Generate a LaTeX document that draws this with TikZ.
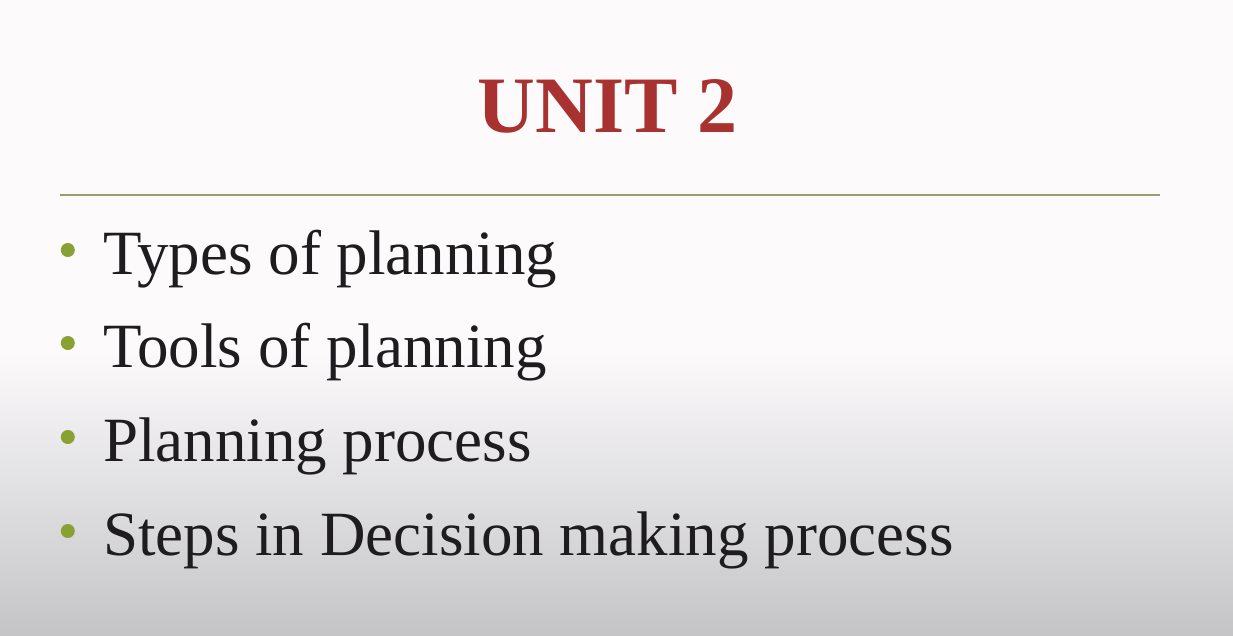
\documentclass[tikz,border=0pt]{standalone}
\usepackage{fontspec}
\setmainfont{Liberation Serif}
\usetikzlibrary{positioning}
\definecolor{unitred}{RGB}{168,50,48}
\definecolor{olivedot}{RGB}{137,160,50}
\definecolor{ruleline}{RGB}{150,158,110}
\definecolor{slidetop}{RGB}{252,250,251}
\definecolor{slidebottom}{RGB}{196,196,199}
\definecolor{itemtext}{RGB}{30,28,30}
\tikzset{
    x=1pt,
    y=-1pt,
    heading/.style = {
        text=unitred,
        font=\fontsize{80}{80}\selectfont\bfseries,
        inner sep=0pt,
        anchor=base
    },
    topic/.style = {
        text=itemtext,
        font=\fontsize{63}{63}\selectfont,
        inner sep=0pt,
        anchor=base west
    },
    bullet/.style = {
        shape=circle,
        fill=olivedot,
        minimum size=14pt,
        inner sep=0pt,
        font=\fontsize{1}{1}\selectfont
    },
}
\begin{document}
\begin{tikzpicture}

            \useasboundingbox (0,0) rectangle (1233,636);
            \fill[slidetop] (0,0) rectangle (1233,350);
            \shade[top color=slidetop, bottom color=slidebottom] (0,350) rectangle (1233,636);

            \node[heading] (unit) at (608,133) {UNIT 2};

            \coordinate (rule_w) at (60,195);
            \coordinate (rule_e) at (1160,195);
            \path[draw, ruleline, line width=1.4pt] (rule_w) -- (rule_e);

            \node[topic] (types) at (103,274) {Types of planning};
            \node[topic] (tools) at (103,367) {Tools of planning};
            \node[topic] (process) at (103,461) {Planning process};
            \node[topic] (steps) at (103,555) {Steps in Decision making process};

            \node[bullet, left=28pt of types.base west, yshift=24pt] (dot_types) {};
            \node[bullet, left=28pt of tools.base west, yshift=24pt] (dot_tools) {};
            \node[bullet, left=28pt of process.base west, yshift=24pt] (dot_process) {};
            \node[bullet, left=28pt of steps.base west, yshift=24pt] (dot_steps) {};

        \end{tikzpicture}
\end{document}
